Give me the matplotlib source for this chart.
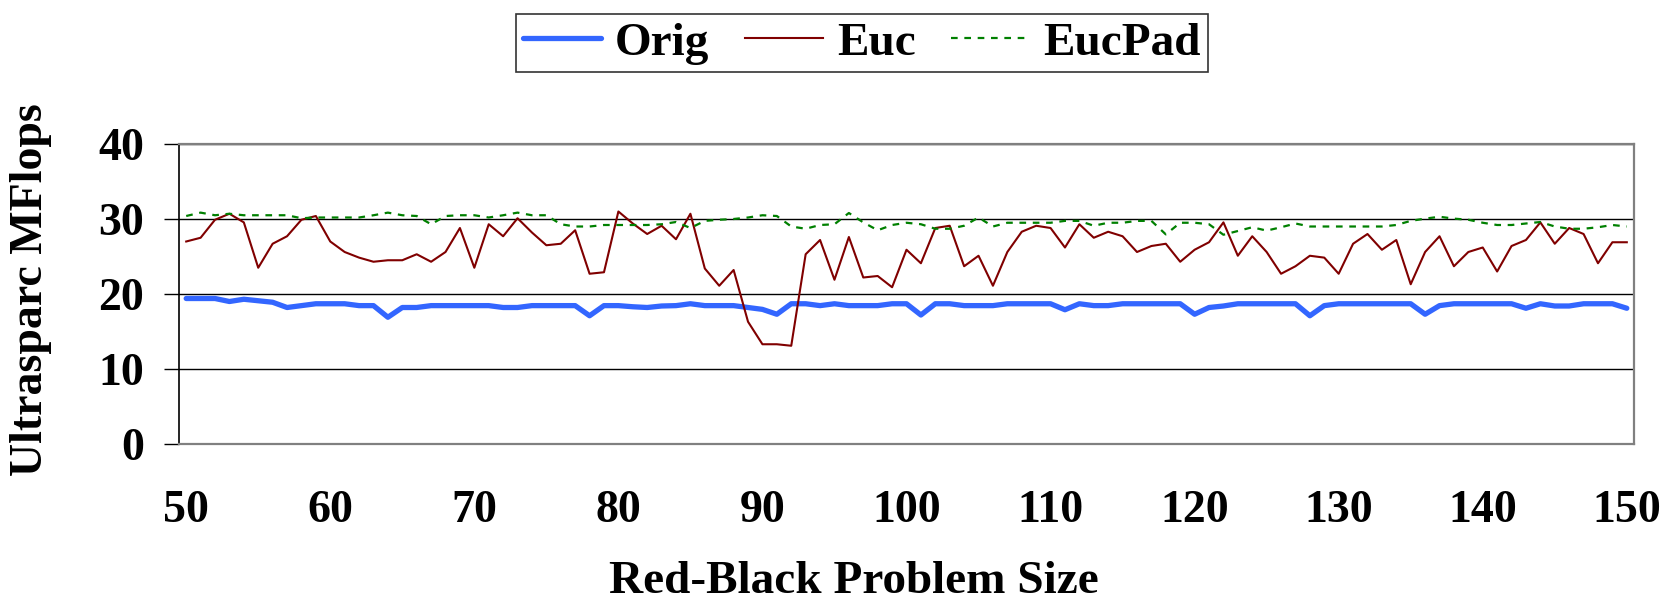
import numpy as np
import matplotlib
matplotlib.use("Agg")
import matplotlib.pyplot as plt

# Data
sizes = list(range(50, 151))

orig = [19.4, 19.4, 19.4, 19.0, 19.3, 19.1, 18.9, 18.2, 18.45, 18.7,
        18.7, 18.7, 18.45, 18.45, 16.9, 18.2, 18.2, 18.45, 18.45, 18.45,
        18.45, 18.45, 18.2, 18.2, 18.45, 18.45, 18.45, 18.45, 17.1, 18.45,
        18.45, 18.3, 18.2, 18.4, 18.45, 18.7, 18.45, 18.45, 18.45, 18.2,
        17.95, 17.3, 18.7, 18.7, 18.45, 18.7, 18.45, 18.45, 18.45, 18.7,
        18.7, 17.2, 18.7, 18.7, 18.45, 18.45, 18.45, 18.7, 18.7, 18.7,
        18.7, 17.9, 18.7, 18.45, 18.45, 18.7, 18.7, 18.7, 18.7, 18.7,
        17.3, 18.2, 18.4, 18.7, 18.7, 18.7, 18.7, 18.7, 17.1, 18.45,
        18.7, 18.7, 18.7, 18.7, 18.7, 18.7, 17.3, 18.45, 18.7, 18.7,
        18.7, 18.7, 18.7, 18.1, 18.7, 18.4, 18.4, 18.7, 18.7, 18.7,
        18.1]

euc = [27.0, 27.5, 29.9, 30.7, 29.55, 23.5, 26.7, 27.7, 29.9, 30.4,
       27.0, 25.6, 24.85, 24.3, 24.5, 24.5, 25.3, 24.3, 25.6, 28.8,
       23.5, 29.3, 27.7, 30.1, 28.2, 26.5, 26.7, 28.5, 22.7, 22.9,
       31.0, 29.4, 28.0, 29.1, 27.3, 30.7, 23.4, 21.1, 23.2, 16.3,
       13.3, 13.3, 13.1, 25.3, 27.2, 21.9, 27.6, 22.2, 22.4, 20.9,
       25.9, 24.1, 28.8, 29.1, 23.7, 25.1, 21.1, 25.6, 28.3, 29.1,
       28.8, 26.2, 29.3, 27.5, 28.3, 27.7, 25.6, 26.4, 26.7, 24.3,
       25.9, 26.9, 29.55, 25.1, 27.7, 25.6, 22.7, 23.7, 25.1, 24.85,
       22.7, 26.7, 28.0, 25.9, 27.2, 21.3, 25.6, 27.7, 23.7, 25.6,
       26.2, 23.0, 26.4, 27.2, 29.55, 26.7, 28.8, 28.0, 24.1, 26.9,
       26.9]

eucpad = [30.4, 30.85, 30.5, 30.7, 30.5, 30.5, 30.5, 30.5, 30.1, 30.2,
          30.2, 30.2, 30.2, 30.5, 30.85, 30.5, 30.4, 29.3, 30.4, 30.5,
          30.5, 30.2, 30.5, 30.85, 30.5, 30.5, 29.3, 29.0, 29.0, 29.2,
          29.2, 29.2, 29.2, 29.3, 29.6, 28.8, 29.75, 29.9, 30.0, 30.2,
          30.5, 30.4, 29.0, 28.7, 29.2, 29.3, 30.8, 29.55, 28.5, 29.2,
          29.5, 29.3, 28.7, 28.7, 29.1, 30.2, 29.0, 29.5, 29.5, 29.5,
          29.5, 29.75, 29.75, 29.1, 29.5, 29.5, 29.75, 29.75, 27.95, 29.5,
          29.5, 29.3, 27.9, 28.4, 28.9, 28.45, 28.9, 29.4, 29.0, 29.0,
          29.0, 29.0, 29.0, 29.0, 29.2, 29.75, 30.05, 30.3, 30.05, 29.9,
          29.5, 29.2, 29.2, 29.4, 29.6, 29.0, 28.7, 28.7, 28.9, 29.2,
          29.0]

xtick_labels = [str(v) for v in range(50, 151, 10)]
yticks = [0, 10, 20, 30, 40]

plt.rcParams['font.family'] = ['Liberation Serif', 'DejaVu Serif']
plt.rcParams['font.weight'] = 'bold'

fig = plt.figure(figsize=(16.73, 6.05), dpi=100)
ax = fig.add_axes([179 / 1673, 1 - 444 / 605, (1634 - 179) / 1673, 300 / 605])

x = np.arange(len(sizes))
ax.plot(x, orig, color='#3366FF', lw=3.8, solid_capstyle='round',
        solid_joinstyle='round', label='Orig', zorder=3)
ax.plot(x, euc, color='#800000', lw=1.5, label='Euc', zorder=4)
ax.plot(x, eucpad, color='#008000', lw=1.6, linestyle=(0, (3, 3)),
        label='EucPad', zorder=5)

ax.set_xlim(-0.5, len(sizes) - 0.5)
ax.set_ylim(0, 40)

# category axis: label every 10th size
tick_pos = [sizes.index(int(s)) for s in xtick_labels]
ax.set_xticks(tick_pos)
ax.set_xticklabels(xtick_labels, fontsize=33, fontweight='bold')
ax.tick_params(axis='x', length=0, pad=33)

ax.set_yticks(yticks)
ax.set_yticklabels([str(v) for v in yticks], fontsize=33, fontweight='bold')
ax.tick_params(axis='y', direction='out', length=11, width=1, color='black', pad=14)

ax.yaxis.grid(True, color='black', lw=1)
ax.set_axisbelow(True)

for side in ['top', 'right', 'bottom']:
    ax.spines[side].set_color('#808080')
    ax.spines[side].set_linewidth(1.6)
ax.spines['left'].set_color('black')
ax.spines['left'].set_linewidth(1.2)

fig.text(31 / 1673, 1 - 290 / 605, 'Ultrasparc MFlops', rotation=90,
         ha='center', va='center', fontsize=33, fontweight='bold')
fig.text(854 / 1673, 1 - 593 / 605, 'Red-Black Problem Size',
         ha='center', va='baseline', fontsize=34, fontweight='bold')

leg = fig.legend(loc='center', bbox_to_anchor=(862 / 1673, 1 - 43 / 605), ncol=3,
                 fontsize=34, frameon=True, fancybox=False, edgecolor='black',
                 handlelength=1.65, handletextpad=0.3, columnspacing=0.75,
                 borderpad=0.15, borderaxespad=0)
leg.get_frame().set_linewidth(1.2)
leg.get_frame().set_facecolor('white')
for t in leg.get_texts():
    t.set_fontweight('bold')

fig.savefig('out.png', dpi=100)
